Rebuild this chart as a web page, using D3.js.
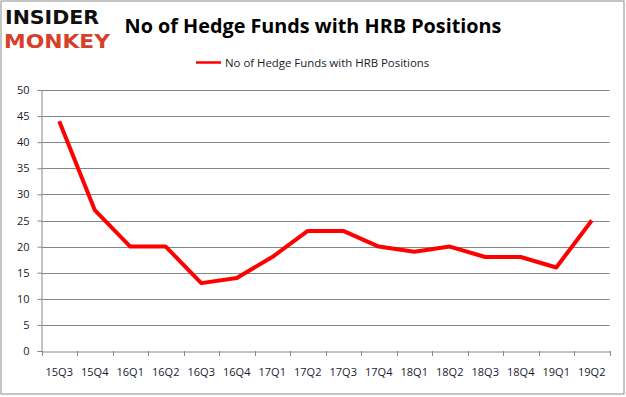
<!DOCTYPE html>
<html><head><meta charset="utf-8">
<script src="https://cdn.jsdelivr.net/npm/d3@7"></script>
<style>body{margin:0;background:#fff}svg{display:block}</style>
</head><body>
<script>
const categories = ["15Q3","15Q4","16Q1","16Q2","16Q3","16Q4","17Q1","17Q2","17Q3","17Q4","18Q1","18Q2","18Q3","18Q4","19Q1","19Q2"];
const values = [44,27,20,20,13,14,18,23,23,20,19,20,18,18,16,25];
const yTicks = [0,5,10,15,20,25,30,35,40,45,50];
const title = "No of Hedge Funds with HRB Positions";
const seriesName = "No of Hedge Funds with HRB Positions";

(function(){
const W = 626, H = 397;
const svg = d3.select("body").append("svg").attr("width", W).attr("height", H);
svg.append("rect").attr("x",1).attr("y",1).attr("width",623).attr("height",393)
  .attr("fill","#fff").attr("stroke","#8c8c8c").attr("stroke-width",1);

const pLeft = 41.5, pRight = 609.5, pTop = 90, pBottom = 351;
const x = d3.scaleBand().domain(categories).range([pLeft, pRight]);
const y = d3.scaleLinear().domain([0,50]).range([pBottom, pTop]);

// gridlines
svg.append("g").selectAll("line").data(yTicks.filter(d=>d>0)).join("line")
  .attr("x1", pLeft).attr("x2", pRight)
  .attr("y1", d=>Math.round(y(d))+0.5).attr("y2", d=>Math.round(y(d))+0.5)
  .attr("stroke","#868686").attr("stroke-width",1);

// y axis
const yAxis = svg.append("g").attr("transform",`translate(${pLeft},0)`)
  .call(d3.axisLeft(y).tickValues(yTicks).tickSize(4).tickPadding(8));
yAxis.select(".domain").attr("stroke","#868686");
yAxis.selectAll(".tick line").attr("stroke","#868686");
yAxis.selectAll(".tick text").attr("font-family","'Open Sans', 'DejaVu Sans', sans-serif").attr("font-size",11).attr("fill","#1a1a2e");

// x axis
const xAxis = svg.append("g").attr("transform",`translate(0,${Math.round(pBottom)+0.5})`)
  .call(d3.axisBottom(x).tickSize(0).tickPadding(17));
xAxis.select(".domain").attr("stroke","#868686");
xAxis.selectAll(".tick line").remove();
svg.append("g").selectAll("line").data(categories.concat(["__end"])).join("line")
  .attr("x1",(d,i)=>Math.round(pLeft + i*x.step())+0.5).attr("x2",(d,i)=>Math.round(pLeft + i*x.step())+0.5)
  .attr("y1", pBottom).attr("y2", pBottom+5).attr("stroke","#868686");
xAxis.selectAll(".tick text").attr("font-family","'Open Sans', 'DejaVu Sans', sans-serif").attr("font-size",11).attr("fill","#1a1a2e");

// line
const line = d3.line().x((d,i)=>x(categories[i]) + x.bandwidth()/2).y(d=>y(d));
svg.append("path").datum(values).attr("d", line).attr("fill","none")
  .attr("stroke","#ff0000").attr("stroke-width",4).attr("stroke-linejoin","round");

// title
svg.append("text").attr("x", 313).attr("y", 33).attr("text-anchor","middle")
  .attr("font-family","'Open Sans', 'DejaVu Sans', sans-serif").attr("font-weight","bold")
  .attr("font-size",19.8).attr("fill","#000").text(title);

// legend
svg.append("line").attr("x1",196).attr("x2",221).attr("y1",62.5).attr("y2",62.5)
  .attr("stroke","#ff0000").attr("stroke-width",2.5);
svg.append("text").attr("x",225).attr("y",66.5)
  .attr("font-family","'Open Sans', 'DejaVu Sans', sans-serif").attr("font-size",11.4)
  .attr("fill","#1a1a2e").text(seriesName);

// logo
svg.append("text").attr("x",5).attr("y",24).attr("textLength",94).attr("lengthAdjust","spacingAndGlyphs")
  .attr("font-family","'DejaVu Sans', sans-serif").attr("font-weight","bold").attr("font-size",20)
  .attr("fill","#111").text("INSIDER");
svg.append("text").attr("x",4).attr("y",48).attr("textLength",106).attr("lengthAdjust","spacingAndGlyphs")
  .attr("font-family","'DejaVu Sans', sans-serif").attr("font-weight","bold").attr("font-size",20)
  .attr("fill","#d6402a").text("MONKEY");
})();
</script>
</body></html>
